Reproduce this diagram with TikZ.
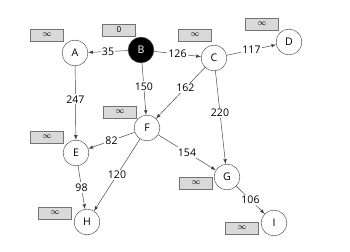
\documentclass[tikz,border=0pt]{standalone}
\usepackage{fontspec}
\setsansfont{Open Sans}
\usepackage{tikz}

\begin{document}
\begin{tikzpicture}[x=0.03cm, y=-0.03cm, font=\sffamily\small,
  vertex/.style={circle, draw=black!70, fill=white, minimum size=22pt, inner sep=0pt},
  start/.style={vertex, fill=black, text=white},
  dist/.style={rectangle, draw=black!55, fill=black!15, minimum width=28pt, minimum height=10pt, inner sep=0pt, font=\sffamily\scriptsize},
  edge/.style={draw=black!75, thin, -latex},
  weight/.style={fill=white, inner sep=1pt}]
\useasboundingbox (0,0) rectangle (350,252);

% vertices
\node[vertex] (A) at (75,53) {A};
\node[start]  (B) at (141,50) {B};
\node[vertex] (C) at (214,58) {C};
\node[vertex] (D) at (289,42) {D};
\node[vertex] (E) at (76,153) {E};
\node[vertex] (F) at (147,128) {F};
\node[vertex] (G) at (227,177) {G};
\node[vertex] (H) at (87,222) {H};
\node[vertex] (I) at (274,223) {I};

% distance boxes
\node[dist] (dA) at (47,35) {$\infty$};
\node[dist] (dB) at (119,30) {0};
\node[dist] (dC) at (195,35) {$\infty$};
\node[dist] (dD) at (262,24) {$\infty$};
\node[dist] (dF) at (120,112) {$\infty$};
\node[dist] (dE) at (47,137) {$\infty$};
\node[dist] (dH) at (55,213) {$\infty$};
\node[dist] (dG) at (196,183) {$\infty$};
\node[dist] (dI) at (242,228) {$\infty$};

% weighted edges
\draw[edge] (B) -- node[weight] {35} (A);
\draw[edge] (B) -- node[weight] {126} (C);
\draw[edge] (C) -- node[weight] {117} (D);
\draw[edge] (A) -- node[weight, pos=0.45] {247} (E);
\draw[edge] (B) -- node[weight, pos=0.45] {150} (F);
\draw[edge] (C) -- node[weight, pos=0.4] {162} (F);
\draw[edge] (C) -- node[weight, pos=0.45] {220} (G);
\draw[edge] (F) -- node[weight] {82} (E);
\draw[edge] (F) -- node[weight] {154} (G);
\draw[edge] (F) -- node[weight] {120} (H);
\draw[edge] (E) -- node[weight] {98} (H);
\draw[edge] (G) -- node[weight] {106} (I);

\end{tikzpicture}
\end{document}
